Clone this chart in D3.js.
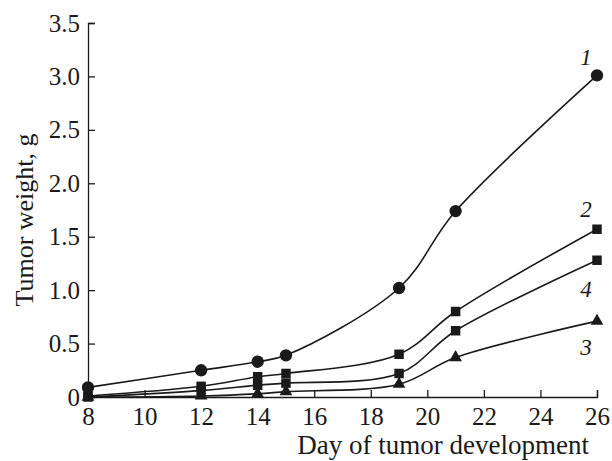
<!DOCTYPE html>
<html>
<head>
<meta charset="utf-8">
<script src="https://cdn.jsdelivr.net/npm/d3@7"></script>
<style>
  body { margin: 0; background: #fff; }
  svg text { font-family: "Liberation Serif", "Times New Roman", serif; fill: #1a1a1a; }
</style>
</head>
<body>
<div id="chart"></div>
<script>
// days on which tumors were weighed
const days = [8, 12, 14, 15, 19, 21, 26];

// tumor weight, g
const series1 = [0.09, 0.25, 0.33, 0.39, 1.02, 1.74, 3.01];
const series2 = [0.01, 0.10, 0.19, 0.22, 0.40, 0.80, 1.57];
const series4 = [0.00, 0.06, 0.11, 0.13, 0.22, 0.62, 1.28];
const series3 = [0.00, 0.01, 0.03, 0.05, 0.12, 0.37, 0.71];

const seriesNames = ["1", "2", "4", "3"];
const seriesMarkers = ["circle", "square", "square", "triangle"];

const xTicks = [8, 10, 12, 14, 16, 18, 20, 22, 24, 26];
const yTicks = [0, 0.5, 1.0, 1.5, 2.0, 2.5, 3.0, 3.5];

const width = 612, height = 461;
const margin = { top: 23, right: 15, bottom: 64, left: 88 };

const svg = d3.select("#chart")
  .append("svg")
  .attr("width", width)
  .attr("height", height);

const xScale = d3.scaleLinear()
  .domain([8, 26])
  .range([margin.left, width - margin.right]);

const yScale = d3.scaleLinear()
  .domain([0, 3.5])
  .range([height - margin.bottom, margin.top]);

const ink = "#1a1a1a";

// axes, ticks pointing inward
const xAxis = svg.append("g")
  .attr("transform", `translate(0,${yScale(0)})`)
  .call(d3.axisBottom(xScale).tickValues(xTicks).tickSize(-7).tickPadding(10).tickFormat(d3.format("d")));

const yAxis = svg.append("g")
  .attr("transform", `translate(${xScale(8)},0)`)
  .call(d3.axisLeft(yScale).tickValues(yTicks).tickSize(-7).tickPadding(8)
    .tickFormat(d => d === 0 ? "0" : d3.format(".1f")(d)));

[xAxis, yAxis].forEach(ax => {
  ax.select(".domain").attr("stroke", ink).attr("stroke-width", 1.3);
  ax.selectAll(".tick line").attr("stroke", ink).attr("stroke-width", 1.3);
  ax.selectAll(".tick text")
    .attr("fill", ink)
    .style("font-family", "Liberation Serif")
    .style("font-size", "25px");
});
yAxis.selectAll(".tick").filter(d => d === 0).select("line").remove();

svg.append("text")
  .attr("x", 589)
  .attr("y", 454)
  .attr("text-anchor", "end")
  .style("font-size", "27px")
  .text("Day of tumor development");

svg.append("text")
  .attr("transform", "translate(33,220) rotate(-90)")
  .attr("text-anchor", "middle")
  .style("font-size", "26px")
  .text("Tumor weight, g");

// lines
const allSeries = [series1, series2, series4, series3].map((vals, i) => ({
  name: seriesNames[i],
  marker: seriesMarkers[i],
  points: days.map((d, j) => ({ x: d, y: vals[j] }))
}));

const line = d3.line()
  .x(d => xScale(d.x))
  .y(d => yScale(d.y))
  .curve(d3.curveCatmullRom.alpha(0.5));

svg.append("g")
  .selectAll("path")
  .data(allSeries)
  .join("path")
  .attr("fill", "none")
  .attr("stroke", ink)
  .attr("stroke-width", 1.6)
  .attr("d", d => line(d.points));

const symbolType = { circle: d3.symbolCircle, square: d3.symbolSquare, triangle: d3.symbolTriangle };
const symbolSize = { circle: 120, square: 90, triangle: 70 };

allSeries.forEach(s => {
  svg.append("g")
    .selectAll("path")
    .data(s.points)
    .join("path")
    .attr("transform", d => `translate(${xScale(d.x)},${yScale(d.y)})`)
    .attr("d", d3.symbol().type(symbolType[s.marker]).size(symbolSize[s.marker]))
    .attr("fill", ink);
});

// curve numbers near the last point
const labelDy = { "1": -10, "2": -12, "4": 37, "3": 34 };
svg.append("g")
  .selectAll("text")
  .data(allSeries)
  .join("text")
  .attr("x", d => xScale(d.points[d.points.length - 1].x) - 11)
  .attr("y", d => yScale(d.points[d.points.length - 1].y) + labelDy[d.name])
  .attr("text-anchor", "middle")
  .style("font-style", "italic")
  .style("font-size", "23px")
  .text(d => d.name);
</script>
</body>
</html>
